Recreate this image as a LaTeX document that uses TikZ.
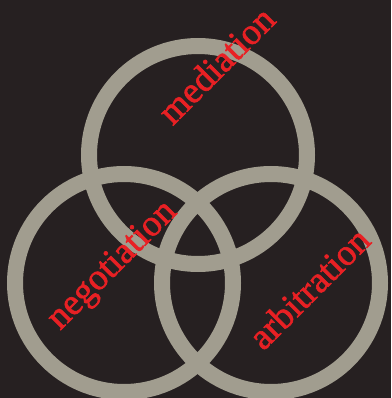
\documentclass[tikz,border=0pt]{standalone}
\usepackage{fontspec}
\setmainfont{Liberation Serif}
\newfontfamily\lblfont[FakeBold=1.6]{Liberation Serif}
\definecolor{bgc}{RGB}{38,32,33}
\definecolor{ringc}{RGB}{161,157,143}
\definecolor{txtc}{RGB}{232,32,36}
\tikzset{
  ring/.style={draw=ringc, line width=16pt},
  lbl/.style={text=txtc, rotate=45, font=\lblfont\fontsize{37}{37}\selectfont, inner sep=0pt, anchor=base}
}
\begin{document}
\begin{tikzpicture}[x=1pt,y=-1pt]
\fill[bgc] (0,0) rectangle (391,398);
\useasboundingbox (0,0) rectangle (391,398);
\coordinate (ct) at (198,155);
\coordinate (cl) at (124,283);
\coordinate (cr) at (271,283);
\draw[ring] (ct) circle[radius=109];
\draw[ring] (cl) circle[radius=109];
\draw[ring] (cr) circle[radius=109];
\node[lbl] (med) at (225,74) {mediation};
\node[lbl] (neg) at (119,272) {negotiation};
\node[lbl] (arb) at (318,297) {arbitration};
\end{tikzpicture}
\end{document}
